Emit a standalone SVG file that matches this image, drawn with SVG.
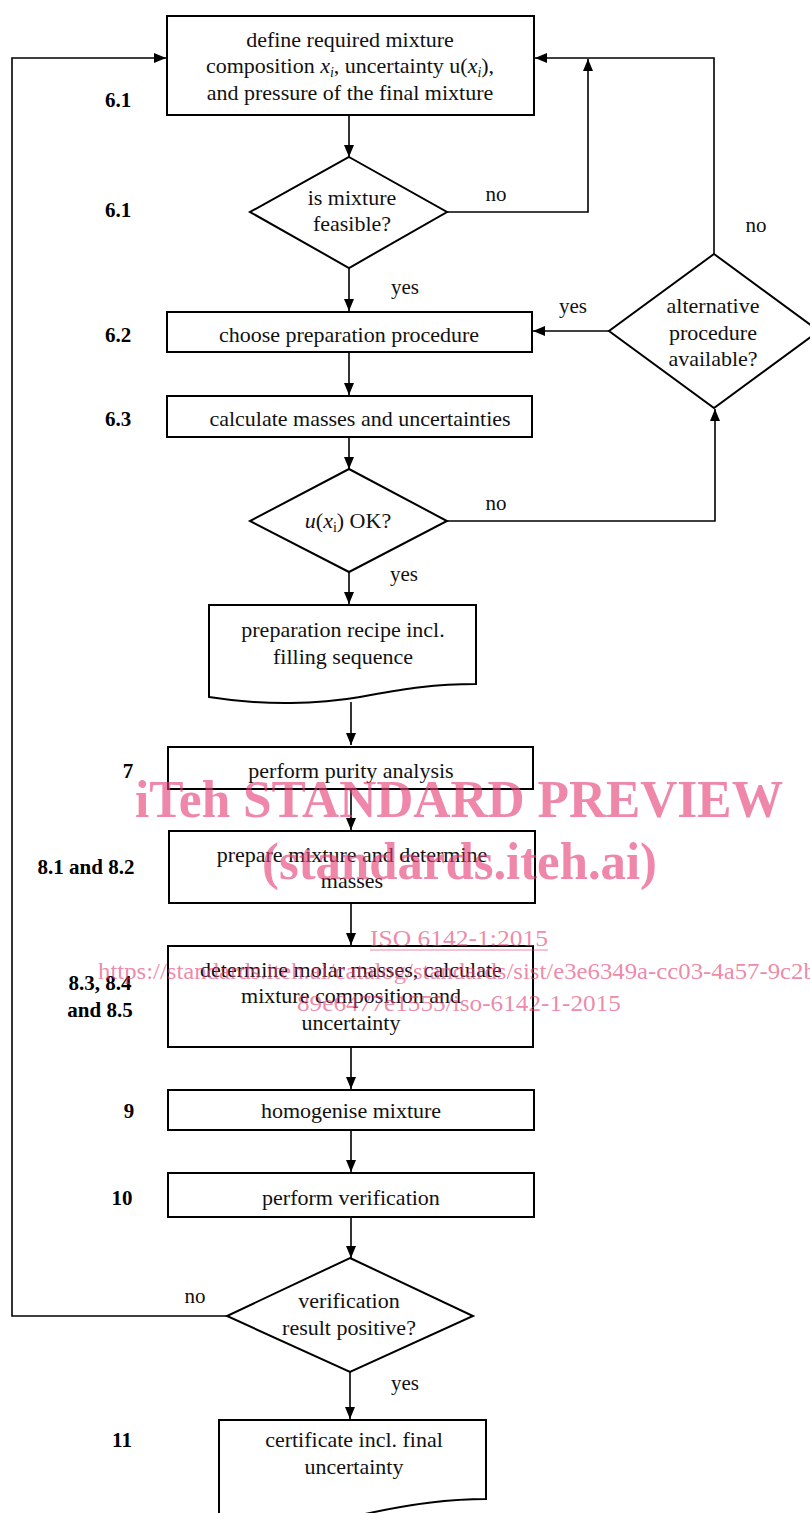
<svg xmlns="http://www.w3.org/2000/svg" width="810" height="1513" viewBox="0 0 810 1513">
<defs>
<style>
.box{fill:#fff;stroke:#000;stroke-width:2}
.t{font-family:"Liberation Serif","Times New Roman",serif;font-size:22px;fill:#111;text-anchor:middle}
.lb{font-family:"Liberation Serif","Times New Roman",serif;font-size:21px;font-weight:bold;fill:#000;text-anchor:middle}
.el{font-family:"Liberation Serif","Times New Roman",serif;font-size:21px;fill:#111;text-anchor:middle}
.c{fill:none;stroke:#000;stroke-width:1.6}
.wm{font-family:"Liberation Serif","Times New Roman",serif;fill:#e33d72;fill-opacity:0.62}
</style>
<marker id="ah" viewBox="0 0 12 12" refX="12" refY="6" markerWidth="12" markerHeight="12" markerUnits="userSpaceOnUse" orient="auto">
<path d="M0,1 L12,6 L0,11 Z" fill="#000"/>
</marker>
</defs>
<rect width="810" height="1513" fill="#fff"/>

<g id="connectors">
<polyline class="c" points="227,1316 12,1316 12,58 166,58" marker-end="url(#ah)"/>
<polyline class="c" points="714,254 714,58 535,58" marker-end="url(#ah)"/>
<polyline class="c" points="447,212 588,212 588,59" marker-end="url(#ah)"/>
<line class="c" x1="349" y1="116" x2="349" y2="157" marker-end="url(#ah)"/>
<line class="c" x1="349" y1="268" x2="349" y2="311" marker-end="url(#ah)"/>
<line class="c" x1="609" y1="331" x2="533" y2="331" marker-end="url(#ah)"/>
<line class="c" x1="349" y1="353" x2="349" y2="395" marker-end="url(#ah)"/>
<line class="c" x1="349" y1="438" x2="349" y2="469" marker-end="url(#ah)"/>
<polyline class="c" points="447,521 715,521 715,409" marker-end="url(#ah)"/>
<line class="c" x1="349" y1="572" x2="349" y2="604" marker-end="url(#ah)"/>
<line class="c" x1="351" y1="702" x2="351" y2="745" marker-end="url(#ah)"/>
<line class="c" x1="351" y1="790" x2="351" y2="830" marker-end="url(#ah)"/>
<line class="c" x1="351" y1="904" x2="351" y2="945" marker-end="url(#ah)"/>
<line class="c" x1="351" y1="1048" x2="351" y2="1089" marker-end="url(#ah)"/>
<line class="c" x1="351" y1="1131" x2="351" y2="1172" marker-end="url(#ah)"/>
<line class="c" x1="351" y1="1218" x2="351" y2="1258" marker-end="url(#ah)"/>
<line class="c" x1="350" y1="1372" x2="350" y2="1419" marker-end="url(#ah)"/>
</g>

<g id="edge-labels">
<text class="el" x="496" y="201">no</text>
<text class="el" x="756" y="232">no</text>
<text class="el" x="573" y="313">yes</text>
<text class="el" x="405" y="294">yes</text>
<text class="el" x="496" y="510">no</text>
<text class="el" x="404" y="581">yes</text>
<text class="el" x="195" y="1303">no</text>
<text class="el" x="405" y="1390">yes</text>
</g>

<g id="n-define">
<rect class="box" x="167" y="16" width="367" height="99"/>
<text class="t" x="350" y="47">define required mixture</text>
<text class="t" x="350" y="73">composition <tspan font-style="italic">x</tspan><tspan font-style="italic" font-size="14" dy="4">i</tspan><tspan dy="-4">, uncertainty u(</tspan><tspan font-style="italic">x</tspan><tspan font-style="italic" font-size="14" dy="4">i</tspan><tspan dy="-4">),</tspan></text>
<text class="t" x="350" y="100">and pressure of the final mixture</text>
<text class="lb" x="118" y="107">6.1</text>
</g>

<g id="n-feasible">
<polygon class="box" points="349,157 447,212 349,268 250,212"/>
<text class="t" x="352" y="205">is mixture</text>
<text class="t" x="352" y="231">feasible?</text>
<text class="lb" x="118" y="217">6.1</text>
</g>

<g id="n-choose">
<rect class="box" x="167" y="312" width="365" height="40"/>
<text class="t" x="349" y="342">choose preparation procedure</text>
<text class="lb" x="118" y="342">6.2</text>
</g>

<g id="n-alternative">
<polygon class="box" points="714,254 819,331 714,408 609,331"/>
<text class="t" x="713" y="313">alternative</text>
<text class="t" x="713" y="340">procedure</text>
<text class="t" x="713" y="366">available?</text>
</g>

<g id="n-calculate">
<rect class="box" x="167" y="396" width="365" height="41"/>
<text class="t" x="360" y="426">calculate masses and uncertainties</text>
<text class="lb" x="118" y="426">6.3</text>
</g>

<g id="n-uok">
<polygon class="box" points="349,469 447,521 349,572 250,521"/>
<text class="t" x="348" y="528"><tspan font-style="italic">u</tspan>(<tspan font-style="italic">x</tspan><tspan font-size="14" dy="4">i</tspan><tspan dy="-4">) OK?</tspan></text>
</g>

<g id="n-recipe">
<path class="box" d="M209,697 V605 H476 V684 C430,684 400,690 360,697 C320,704 265,706 209,697 Z"/>
<text class="t" x="343" y="637">preparation recipe incl.</text>
<text class="t" x="343" y="664">filling sequence</text>
</g>

<g id="n-purity">
<rect class="box" x="168" y="747" width="365" height="42"/>
<text class="t" x="351" y="778">perform purity analysis</text>
<text class="lb" x="128" y="778">7</text>
</g>

<g id="n-prepare">
<rect class="box" x="169" y="831" width="366" height="72"/>
<text class="t" x="352" y="862">prepare mixture and determine</text>
<text class="t" x="352" y="888">masses</text>
<text class="lb" x="86" y="874">8.1 and 8.2</text>
</g>

<g id="n-determine">
<rect class="box" x="168" y="946" width="365" height="101"/>
<text class="t" x="351" y="977">determine molar masses, calculate</text>
<text class="t" x="351" y="1003">mixture composition and</text>
<text class="t" x="351" y="1030">uncertainty</text>
<text class="lb" x="100" y="990">8.3, 8.4</text>
<text class="lb" x="100" y="1017">and 8.5</text>
</g>

<g id="n-homogenise">
<rect class="box" x="168" y="1090" width="366" height="40"/>
<text class="t" x="351" y="1118">homogenise mixture</text>
<text class="lb" x="129" y="1118">9</text>
</g>

<g id="n-verification">
<rect class="box" x="168" y="1173" width="366" height="44"/>
<text class="t" x="351" y="1205">perform verification</text>
<text class="lb" x="122" y="1205">10</text>
</g>

<g id="n-positive">
<polygon class="box" points="350,1258 473,1316 350,1372 227,1316"/>
<text class="t" x="349" y="1308">verification</text>
<text class="t" x="349" y="1335">result positive?</text>
</g>

<g id="n-certificate">
<path class="box" d="M219,1520 V1420 H486 V1499 C440,1499 395,1506 340,1520"/>
<text class="t" x="354" y="1447">certificate incl. final</text>
<text class="t" x="354" y="1474">uncertainty</text>
<text class="lb" x="122" y="1447">11</text>
</g>

<g id="watermark">
<text class="wm" x="135" y="817" font-size="52" font-weight="bold" textLength="648" lengthAdjust="spacingAndGlyphs">iTeh STANDARD PREVIEW</text>
<text class="wm" x="262" y="879" font-size="52" font-weight="bold" textLength="395" lengthAdjust="spacingAndGlyphs">(standards.iteh.ai)</text>
<text class="wm" x="370" y="946" font-size="23" textLength="178" lengthAdjust="spacingAndGlyphs">ISO 6142-1:2015</text>
<line x1="370" y1="950" x2="548" y2="950" stroke="#e33d72" stroke-opacity="0.62" stroke-width="1.2"/>
<text class="wm" x="98" y="979" font-size="23" textLength="726" lengthAdjust="spacingAndGlyphs">https://standards.iteh.ai/catalog/standards/sist/e3e6349a-cc03-4a57-9c2b-</text>
<text class="wm" x="297" y="1011" font-size="23" textLength="324" lengthAdjust="spacingAndGlyphs">89e6477e1555/iso-6142-1-2015</text>
</g>
</svg>
